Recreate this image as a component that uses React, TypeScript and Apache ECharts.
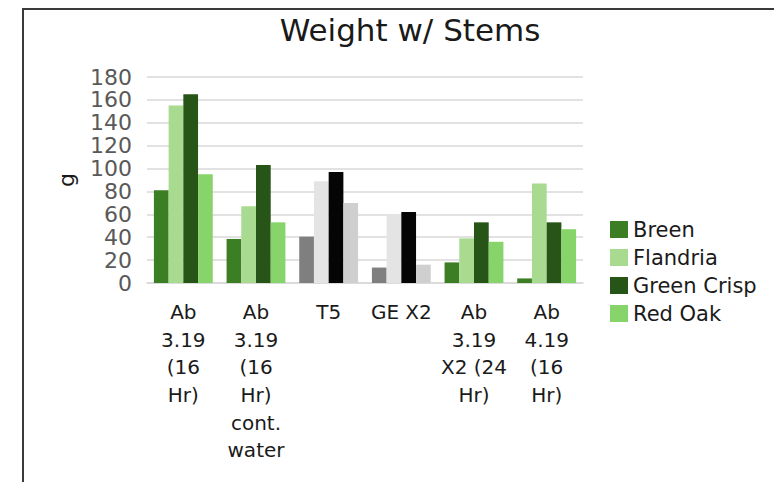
import React, { useEffect, useRef } from "react";
import * as echarts from "echarts";

const categories = [
  "Ab\n3.19\n(16\nHr)",
  "Ab\n3.19\n(16\nHr)\ncont.\nwater",
  "T5",
  "GE X2",
  "Ab\n3.19\nX2 (24\nHr)",
  "Ab\n4.19\n(16\nHr)",
];
const seriesNames = ["Breen", "Flandria", "Green Crisp", "Red Oak"];
const breen = [81, 38.5, 40.5, 13.5, 18, 4];
const flandria = [155, 67, 89, 60, 39, 87];
const greenCrisp = [165, 103, 97, 62, 53, 53];
const redOak = [95, 53, 70, 16, 36, 47];
const greenColors = ["#3b7e23", "#a8da90", "#275417", "#86d46a"];
const grayColors = ["#7f7f7f", "#e4e4e4", "#050505", "#cfcfcf"];
const grayCategories = [2, 3];
const yTicks = { min: 0, max: 180, interval: 20 };

export default function App() {
  const ref = useRef<HTMLDivElement>(null);
  useEffect(() => {
    if (!ref.current) return;
    const chart = echarts.init(ref.current, null, { renderer: "svg" });
    const allData = [breen, flandria, greenCrisp, redOak];
    const font = "DejaVu Sans";
    chart.setOption({
      animation: false,
      backgroundColor: "#ffffff",
      textStyle: { fontFamily: font },
      title: {
        text: "Weight w/ Stems",
        left: 405,
        top: 9,
        textAlign: "center",
        textStyle: { fontFamily: font, fontSize: 31, fontWeight: "normal", color: "#1a1a1a" },
      },
      graphic: [
        {
          type: "rect",
          shape: { x: 23, y: 9, width: 800, height: 500 },
          style: { fill: "none", stroke: "#3a3a3a", lineWidth: 2 },
          silent: true,
        },
      ],
      legend: {
        orient: "vertical",
        left: 610,
        top: 219,
        padding: 0,
        itemWidth: 18,
        itemHeight: 17,
        itemGap: 7,
        icon: "rect",
        data: seriesNames,
        textStyle: { fontFamily: font, fontSize: 21, color: "#1a1a1a" },
      },
      grid: { left: 147, right: 191, top: 77, bottom: 199, containLabel: false },
      xAxis: {
        type: "category",
        data: categories,
        axisLine: { show: true, lineStyle: { color: "#d9d9d9", width: 1.5 } },
        axisTick: { show: false },
        axisLabel: {
          interval: 0,
          margin: 15,
          fontFamily: font,
          fontSize: 20,
          lineHeight: 27.7,
          color: "#1a1a1a",
        },
      },
      yAxis: {
        type: "value",
        min: yTicks.min,
        max: yTicks.max,
        interval: yTicks.interval,
        name: "g",
        nameLocation: "middle",
        nameGap: 70,
        nameRotate: 90,
        nameTextStyle: { fontFamily: font, fontSize: 22, color: "#1a1a1a" },
        axisLine: { show: false },
        axisTick: { show: false },
        axisLabel: { margin: 15, fontFamily: font, fontSize: 22, color: "#595959" },
        splitLine: { lineStyle: { color: "#d9d9d9", width: 1.5 } },
      },
      series: seriesNames.map((name, si) => ({
        name,
        type: "bar",
        barGap: "0%",
        barCategoryGap: "19%",
        itemStyle: { color: greenColors[si] },
        data: allData[si].map((v, ci) =>
          grayCategories.includes(ci)
            ? { value: v, itemStyle: { color: grayColors[si] } }
            : v
        ),
      })),
    });
    return () => chart.dispose();
  }, []);
  return (
    <div
      ref={ref}
      style={{ position: "absolute", left: 0, top: 0, width: 774, height: 482 }}
    />
  );
}
